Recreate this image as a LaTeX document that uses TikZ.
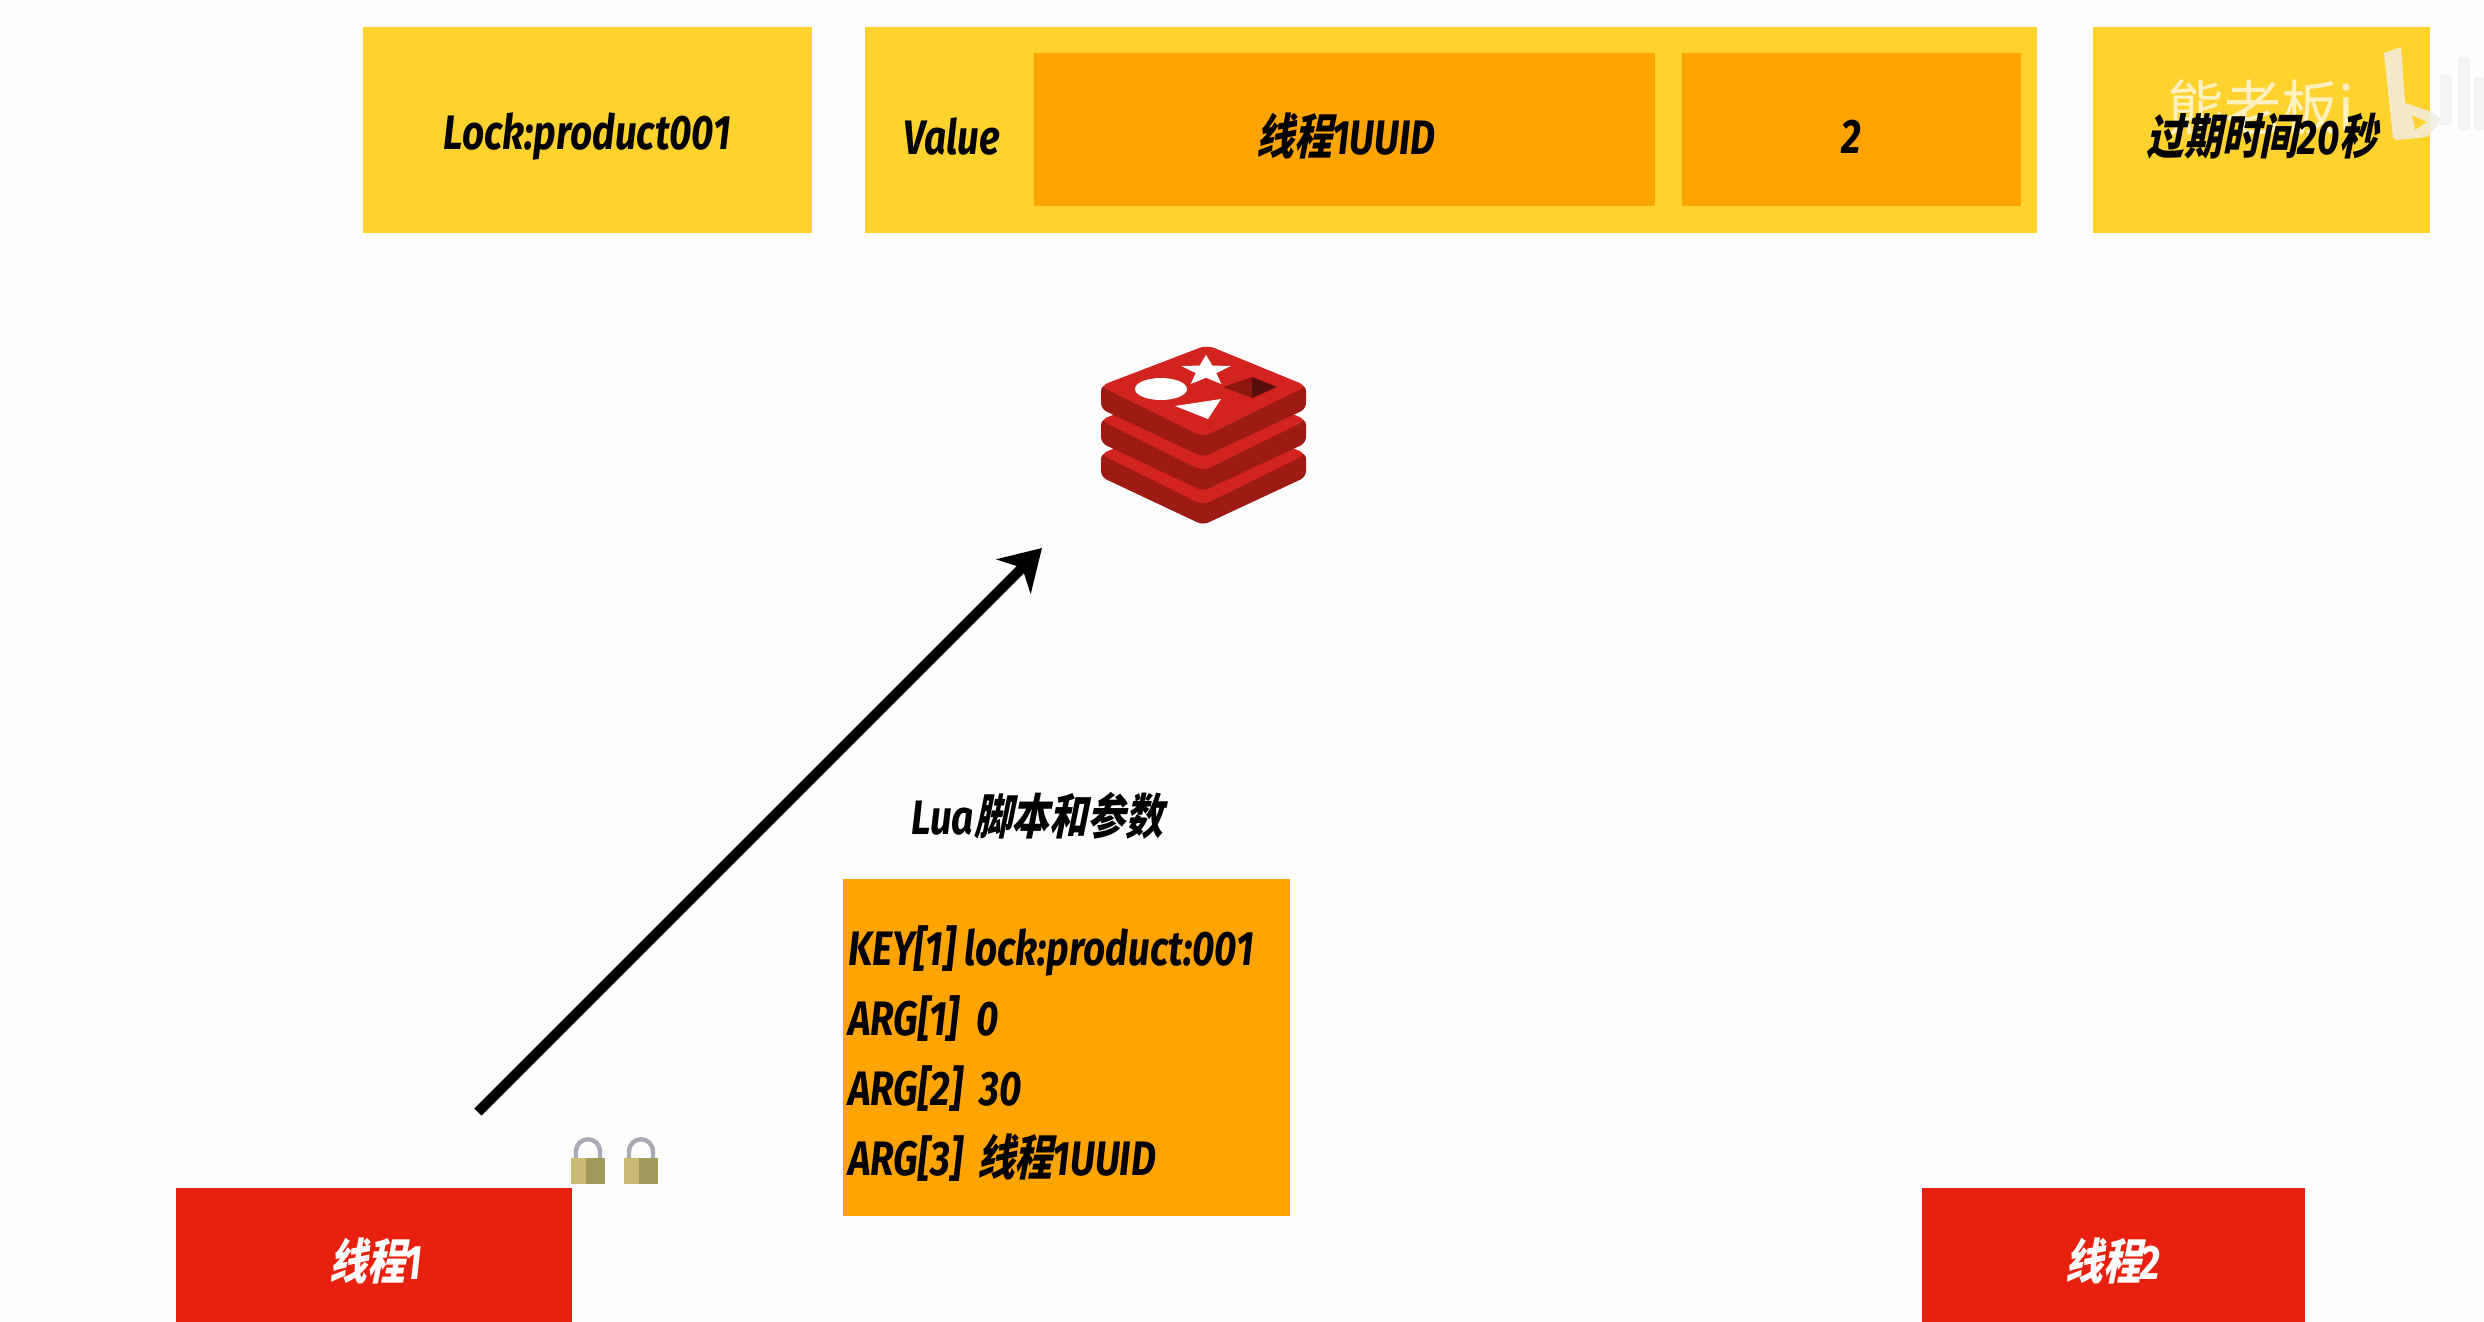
\documentclass[tikz,border=0pt]{standalone}
\usepackage{fontspec}
\usetikzlibrary{arrows.meta,shapes.geometric}
\newfontfamily\lf{Fira Sans}[FakeStretch=0.8]
\newfontfamily\zh{Noto Sans CJK SC}[FakeSlant=0.2,FakeStretch=0.78]
\newfontfamily\zhw{Noto Sans CJK SC}[FakeStretch=0.95]
\newcommand{\la}[1]{{\lf\bfseries\itshape #1}}
\newcommand{\cj}[1]{{\zh\bfseries #1}}
\definecolor{yel}{HTML}{FFD22E}
\definecolor{org}{HTML}{FFA400}
\definecolor{redb}{HTML}{E9200D}
\definecolor{rtop}{HTML}{D2231F}
\definecolor{rside}{HTML}{9E1A14}
\definecolor{bgw}{HTML}{FEFEFE}
\definecolor{lockl}{HTML}{C9BB73}
\definecolor{lockr}{HTML}{A09A5C}
\definecolor{lockg}{HTML}{A8ABB5}
\definecolor{wmc}{HTML}{F1EEE2}
\definecolor{wmg}{HTML}{F3F3F3}
\tikzset{
  x=0.5pt,y=-0.5pt,
  box/.style={inner sep=0pt,outer sep=0pt,draw=none},
  lab/.style={inner sep=0pt,text=black,font=\fontsize{24.2}{29}\selectfont},
  arr/.style={line width=5pt,-{Stealth[length=20pt,width=24pt,inset=6pt]},black},
  wm/.style={inner sep=0pt,text=white,opacity=0.7,font=\fontsize{30}{34}\selectfont\zhw}
}
\newcommand{\redislayer}[1]{%
  \fill[rside,rounded corners=3pt] (1101,385+#1) -- (1101,409+#1) -- (1203,457+#1) -- (1306,409+#1) -- (1306,385+#1) -- cycle;
  \fill[rtop,rounded corners=4pt] (1207,345+#1) -- (1307,386+#1) -- (1203,437+#1) -- (1100,386+#1) -- cycle;
}
\newcommand{\padlock}[1]{%
  \draw[line width=2.2pt,color=lockg] (#1+5,1160) -- (#1+5,1152) .. controls (#1+5,1135) and (#1+29,1135) .. (#1+29,1152) -- (#1+29,1160);
  \fill[color=lockl] (#1,1158) rectangle (#1+15,1184);
  \fill[color=lockr] (#1+15,1158) rectangle (#1+34,1184);
}
\begin{document}
\begin{tikzpicture}
\useasboundingbox (0,0) rectangle (2484,1322);
\fill[bgw] (0,0) rectangle (2484,1322);
% top boxes
\node[box,fill=yel,minimum width=224.5pt,minimum height=103pt] (lockbox) at (587.5,130) {};
\node[box,fill=yel,minimum width=586pt,minimum height=103pt] (valbox) at (1451,130) {};
\node[box,fill=org,minimum width=310.5pt,minimum height=76.5pt] (uuidbox) at (1344.5,129.5) {};
\node[box,fill=org,minimum width=169.5pt,minimum height=76.5pt] (cntbox) at (1851.5,129.5) {};
\node[box,fill=yel,minimum width=168.5pt,minimum height=103pt] (ttlbox) at (2261.5,130) {};
% watermark
\node[wm] (wmname) at (2261,108) {熊老板i};
\fill[wmc,opacity=0.85,even odd rule] (2384,53) -- (2401,47) -- (2405,103) -- (2432,112) -- (2443,120) -- (2427,137) -- (2397,140) -- (2393,138) -- cycle (2412,115) -- (2427,122) -- (2415,130) -- cycle;
\fill[wmg] (2440,75) rectangle (2452,125) (2458,57) rectangle (2470,130) (2474,77) rectangle (2484,130);
% labels
\node[lab] (locktxt) at (587,137) {\la{Lock:product001}};
\node[lab] (valtxt) at (952,137) {\la{Value}};
\node[lab] (uuidtxt) at (1346,136) {\cj{线程}\la{1UUID}};
\node[lab] (cnttxt) at (1851,137) {\la{2}};
\node[lab] (ttltxt) at (2262,136) {\cj{过期时间}\la{20}\cj{秒}};
% redis
\redislayer{68}
\redislayer{34}
\redislayer{0}
\node[star,star points=5,star point ratio=2.4,fill=white,inner sep=0pt,minimum size=26pt,yscale=0.62] (rstar) at (1206,371) {};
\fill[white] (1161,389) ellipse[x radius=26,y radius=11];
\fill[white] (1175,406) -- (1221,399) -- (1208,419) -- cycle;
\fill[rside!90!black] (1223,387) -- (1252,377) -- (1252,398) -- cycle;
\fill[rside!55!black] (1252,377) -- (1277,387) -- (1252,398) -- cycle;
\coordinate (redis) at (1042,548);
\coordinate (armstart) at (478,1112);
\draw[arr] (armstart) -- (redis);
% Lua
\node[lab,text=black] (luatxt) at (1037,816) {\la{Lua}\cj{脚本和参数}};
\node[box,fill=org,minimum width=223.5pt,minimum height=168.5pt] (argbox) at (1066.5,1047.5) {};
\node[lab,anchor=west,align=left,font=\fontsize{24.2}{35}\selectfont] (argtxt) at (848,1054) {\la{KEY[1] lock:product:001}\\\la{ARG[1]\ \ 0}\\\la{ARG[2]\ \ 30}\\\la{ARG[3]} \cj{线程}\la{1UUID}};
% threads
\node[box,fill=redb,minimum width=198pt,minimum height=67pt] (t1) at (374,1255) {};
\node[box,fill=redb,minimum width=191.5pt,minimum height=67pt] (t2) at (2113.5,1255) {};
\node[lab,text=white] (t1txt) at (376,1261) {\cj{线程}\la{1}};
\node[lab,text=white] (t2txt) at (2113,1261) {\cj{线程}\la{2}};
\padlock{571}
\padlock{624}
\end{tikzpicture}
\end{document}
